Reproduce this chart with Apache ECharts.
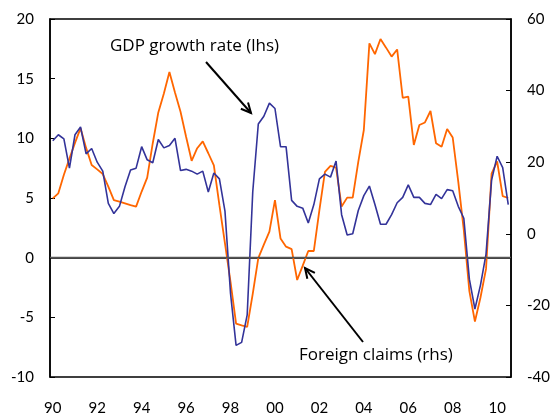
<!DOCTYPE html>
<html>
<head>
<meta charset="utf-8">
<script src="https://cdn.jsdelivr.net/npm/echarts@6/dist/echarts.min.js"></script>
<style>
html,body{margin:0;padding:0;background:#fff;}
#chart{width:553px;height:416px;}
</style>
</head>
<body>
<div id="chart"></div>
<script>
// Quarterly, 1990Q1 .. 2010Q3
const years = ['90','91','92','93','94','95','96','97','98','99','00','01','02','03','04','05','06','07','08','09','10'];
const gdpGrowth = [
  9.8, 10.3, 9.95, 7.5, 10.3, 10.95, 8.7, 9.15,
  8.0, 7.25, 4.55, 3.7, 4.3, 5.95, 7.35, 7.5,
  9.3, 8.2, 7.95, 9.9, 9.2, 9.4, 10.0, 7.3,
  7.4, 7.25, 7.0, 7.25, 5.5, 7.1, 6.6, 3.9,
  -3.0, -7.35, -7.1, -4.8, 5.5, 11.2, 11.85, 12.95,
  12.5, 9.3, 9.3, 4.8, 4.3, 4.15, 2.9, 4.45,
  6.6, 7.0, 6.75, 8.1, 3.6, 1.9, 2.0, 3.95,
  5.2, 6.0, 4.45, 2.8, 2.8, 3.6, 4.6, 5.05,
  6.1, 5.05, 5.05, 4.55, 4.45, 5.3, 4.95, 5.7,
  5.6, 4.3, 3.3, -1.8, -4.3, -2.3, 0.3, 6.5,
  8.5, 7.55, 4.45
];
const foreignClaims = [
  9.9, 11.3, 16.5, 21.0, 25.4, 29.5, 24.0, 19.2,
  18.0, 16.7, 13.2, 9.4, 9.0, 8.5, 8.0, 7.6,
  11.8, 15.7, 25.3, 33.9, 39.2, 45.2, 39.5, 34.1,
  27.1, 20.4, 23.9, 25.8, 22.5, 19.1, 8.0, -2.7,
  -13.4, -25.1, -25.6, -26.0, -16.8, -6.8, -3.0, 0.6,
  9.4, -1.3, -3.6, -4.3, -12.9, -8.9, -4.8, -4.8,
  6.6, 17.3, 19.0, 18.5, 7.6, 10.1, 10.1, 20.1,
  29.0, 53.2, 50.2, 54.4, 52.0, 49.5, 51.5, 38.0,
  38.3, 24.8, 30.4, 31.1, 34.3, 25.3, 24.3, 29.3,
  26.9, 14.6, 1.0, -16.0, -24.5, -17.8, -9.8, 16.8,
  20.2, 10.5, 10.0
];
const leftTicks = {min: -10, max: 20, interval: 5};
const rightTicks = {min: -40, max: 60, interval: 20};

const quarters = [];
for (let i = 0; i < gdpGrowth.length; i++) {
  quarters.push(years[Math.floor(i / 4)] + 'Q' + (i % 4 + 1));
}

const FONT = 'Lato, "Open Sans", sans-serif';
const NOTE_FONT = '"Open Sans", Lato, sans-serif';
const chart = echarts.init(document.getElementById('chart'), null, {renderer: 'canvas'});

function arrow(x1, y1, x2, y2) {
  const ang = Math.atan2(y2 - y1, x2 - x1);
  const L = 11, A = 0.45;
  const p1 = [x2 - L * Math.cos(ang - A), y2 - L * Math.sin(ang - A)];
  const p2 = [x2 - L * Math.cos(ang + A), y2 - L * Math.sin(ang + A)];
  return [
    {type: 'line', shape: {x1: x1, y1: y1, x2: x2, y2: y2}, style: {stroke: '#000', lineWidth: 2}},
    {type: 'polyline', shape: {points: [p1, [x2, y2], p2]}, style: {stroke: '#000', lineWidth: 2, fill: null}}
  ];
}

chart.setOption({
  animation: false,
  backgroundColor: '#fff',
  grid: {left: 50, right: 40, top: 19, bottom: 39, show: true, borderColor: '#000', borderWidth: 1.5},
  xAxis: {
    type: 'category',
    data: quarters,
    boundaryGap: true,
    axisLine: {lineStyle: {color: '#000', width: 1.5}},
    axisTick: {show: false},
    axisLabel: {
      interval: 7,
      margin: 24,
      color: '#000',
      fontSize: 15,
      fontFamily: FONT,
      formatter: function (v) { return v.slice(0, 2); }
    },
    splitLine: {show: false}
  },
  yAxis: [
    {
      type: 'value', position: 'left',
      min: leftTicks.min, max: leftTicks.max, interval: leftTicks.interval,
      axisLine: {show: true, lineStyle: {color: '#000', width: 1.5}},
      axisTick: {show: true, inside: true, length: 5, lineStyle: {color: '#000'}},
      axisLabel: {color: '#000', fontSize: 15, fontFamily: FONT, margin: 16},
      splitLine: {show: false}
    },
    {
      type: 'value', position: 'right',
      min: rightTicks.min, max: rightTicks.max, interval: rightTicks.interval,
      axisLine: {show: true, lineStyle: {color: '#000', width: 1.5}},
      axisTick: {show: true, inside: true, length: 5, lineStyle: {color: '#000'}},
      axisLabel: {color: '#000', fontSize: 15, fontFamily: FONT, margin: 16},
      splitLine: {show: false}
    }
  ],
  series: [
    {
      name: 'GDP growth rate (lhs)',
      type: 'line',
      yAxisIndex: 0,
      data: gdpGrowth,
      symbol: 'none',
      z: 3,
      lineStyle: {color: '#333399', width: 1.6},
      markLine: {
        silent: true,
        symbol: ['none', 'none'],
        label: {show: false},
        lineStyle: {color: '#555', width: 1.3, type: 'solid'},
        data: [{yAxis: 0}]
      }
    },
    {
      name: 'Foreign claims (rhs)',
      type: 'line',
      yAxisIndex: 1,
      data: foreignClaims,
      symbol: 'none',
      z: 2,
      lineStyle: {color: '#FF6600', width: 1.8}
    }
  ],
  graphic: [
    {type: 'text', left: 110, top: 38, style: {text: 'GDP growth rate (lhs)', fontSize: 17, fontFamily: NOTE_FONT, fill: '#000'}},
    {type: 'text', left: 299, top: 347, style: {text: 'Foreign claims (rhs)', fontSize: 17, fontFamily: NOTE_FONT, fill: '#000'}}
  ].concat(arrow(206, 62, 251, 113), arrow(363, 342, 305, 268))
});
</script>
</body>
</html>
